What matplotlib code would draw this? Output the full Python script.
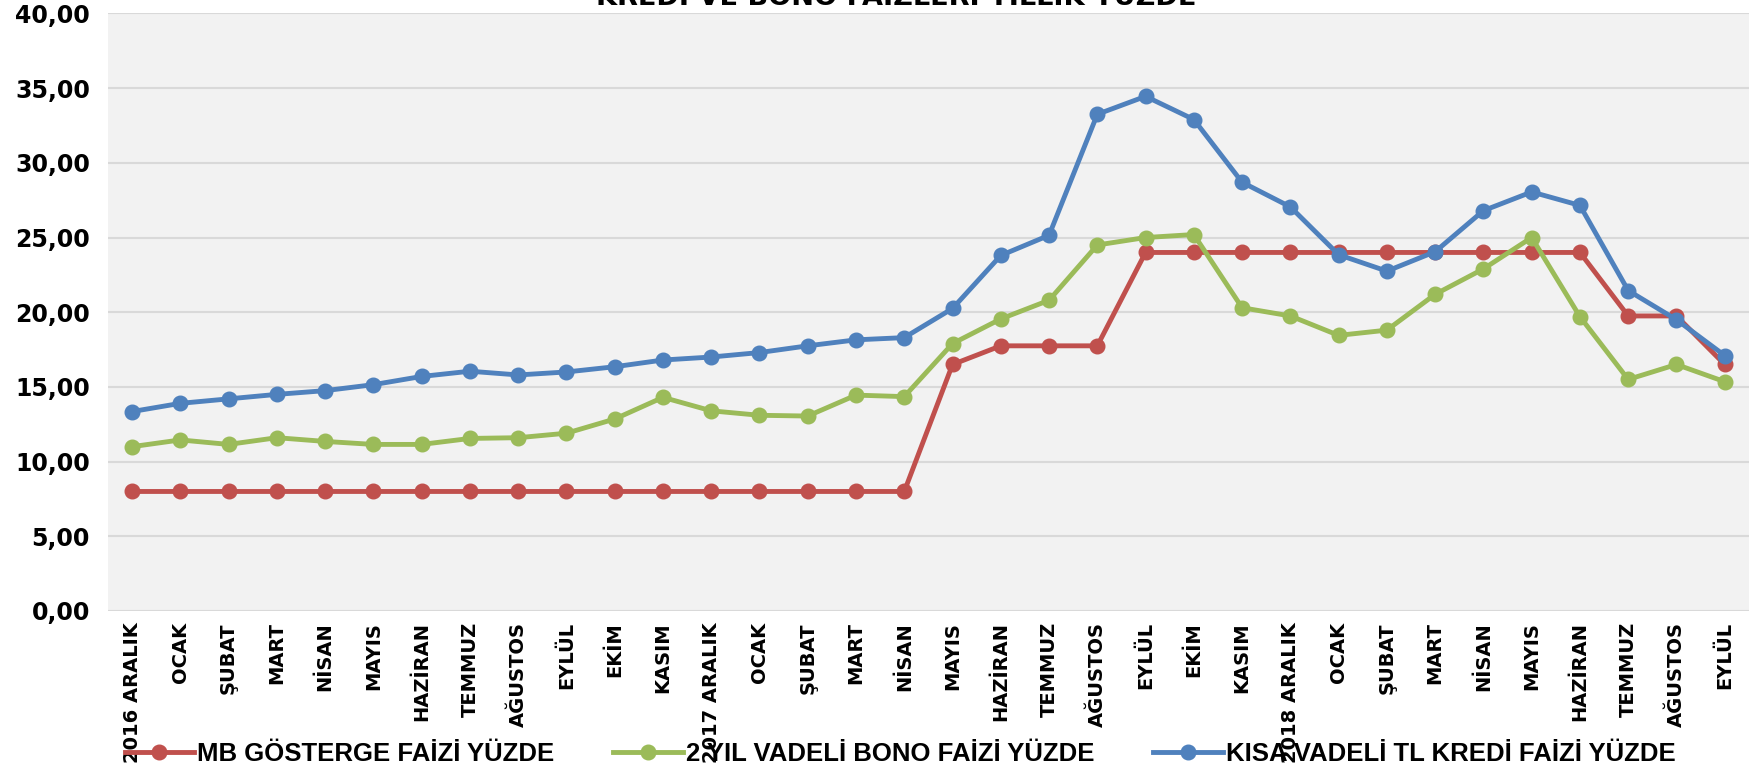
import matplotlib
matplotlib.use('Agg')
import matplotlib.pyplot as plt

months = ['2016 ARALIK', 'OCAK', 'ŞUBAT', 'MART', 'NİSAN', 'MAYIS', 'HAZİRAN', 'TEMMUZ',
          'AĞUSTOS', 'EYLÜL', 'EKİM', 'KASIM',
          '2017 ARALIK', 'OCAK', 'ŞUBAT', 'MART', 'NİSAN', 'MAYIS', 'HAZİRAN', 'TEMMUZ',
          'AĞUSTOS', 'EYLÜL', 'EKİM', 'KASIM',
          '2018 ARALIK', 'OCAK', 'ŞUBAT', 'MART', 'NİSAN', 'MAYIS', 'HAZİRAN', 'TEMMUZ',
          'AĞUSTOS', 'EYLÜL']

mb_faiz = [8, 8, 8, 8, 8, 8, 8, 8, 8, 8, 8, 8,
           8, 8, 8, 8, 8, 16.5, 17.75, 17.75, 17.75, 24, 24, 24,
           24, 24, 24, 24, 24, 24, 24, 19.75, 19.75, 16.5]

bono_faiz = [11.0, 11.45, 11.15, 11.6, 11.35, 11.15, 11.15, 11.55, 11.6, 11.9, 12.85, 14.3,
             13.4, 13.1, 13.05, 14.45, 14.35, 17.9, 19.55, 20.8, 24.5, 25.0, 25.2, 20.3,
             19.75, 18.45, 18.8, 21.2, 22.9, 25.0, 19.7, 15.5, 16.5, 15.35]

kredi_faiz = [13.35, 13.9, 14.2, 14.5, 14.75, 15.15, 15.7, 16.05, 15.8, 16.0, 16.35, 16.8,
              17.0, 17.3, 17.75, 18.15, 18.3, 20.25, 23.8, 25.15, 33.25, 34.45, 32.9, 28.7,
              27.05, 23.85, 22.75, 24.05, 26.8, 28.05, 27.15, 21.45, 19.5, 17.1]

series = [('MB GÖSTERGE FAİZİ YÜZDE', mb_faiz, '#C0504D'),
          ('2 YIL VADELİ BONO FAİZİ YÜZDE', bono_faiz, '#9BBB59'),
          ('KISA VADELİ TL KREDİ FAİZİ YÜZDE', kredi_faiz, '#4F81BD')]

fig = plt.figure(figsize=(17.58, 7.73), dpi=100)
ax = fig.add_axes([0.0614, 0.2096, 0.9334, 0.773])
ax.set_facecolor('#F2F2F2')

x = list(range(len(months)))
for name, vals, col in series:
    ax.plot(x, vals, color=col, lw=3.5, marker='o', ms=10.5, label=name, zorder=3)

ax.set_xlim(-0.5, len(months) - 0.5)
ax.set_ylim(0, 40)
ax.set_yticks(range(0, 41, 5))
ax.set_yticklabels([f'{v},00' for v in range(0, 41, 5)], fontsize=17, fontweight='bold')
ax.set_xticks(x)
ax.set_xticklabels(months, rotation=90, fontsize=14, fontweight='bold')
ax.tick_params(axis='both', length=0)
ax.tick_params(axis='y', pad=13)
ax.tick_params(axis='x', pad=8)
ax.grid(axis='y', color='#D9D9D9', lw=1.5, zorder=0)
ax.set_axisbelow(True)
for s in ax.spines.values():
    s.set_visible(False)

fig.text(0.51, 0.994, 'KREDİ VE BONO FAİZLERİ YILLIK YÜZDE', ha='center', va='baseline',
         fontsize=19.5, fontweight='bold')

leg = fig.legend(loc='center', bbox_to_anchor=(0.512, 0.024), ncol=3, frameon=False,
                 handlelength=2.7, handletextpad=0.12, columnspacing=2.3, borderpad=0,
                 prop={'family': ['Liberation Sans', 'DejaVu Sans'],
                       'weight': 'bold', 'size': 18.5})

fig.savefig('out.png', dpi=100)
